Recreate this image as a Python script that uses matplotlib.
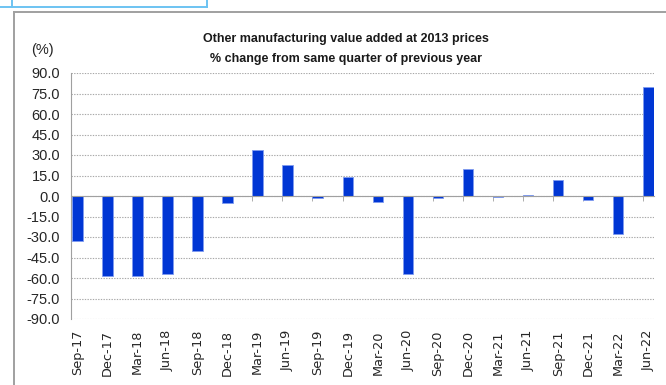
import matplotlib
matplotlib.use("Agg")
import matplotlib.pyplot as plt
from matplotlib.lines import Line2D
from matplotlib.ticker import FixedLocator
from matplotlib import font_manager

quarters = ["Sep-17", "Dec-17", "Mar-18", "Jun-18", "Sep-18", "Dec-18", "Mar-19",
            "Jun-19", "Sep-19", "Dec-19", "Mar-20", "Jun-20", "Sep-20", "Dec-20",
            "Mar-21", "Jun-21", "Sep-21", "Dec-21", "Mar-22", "Jun-22"]
pct_change = [-33.0, -58.5, -58.5, -57.0, -40.0, -5.0, 34.0,
              23.0, -1.5, 14.0, -4.5, -57.0, -1.5, 19.8,
              -1.0, 1.0, 11.7, -3.2, -28.0, 79.5]
yticks = [90, 75, 60, 45, 30, 15, 0, -15, -30, -45, -60, -75, -90]

names = {f.name for f in font_manager.fontManager.ttflist}
narrow = "Liberation Sans Narrow" if "Liberation Sans Narrow" in names else "Liberation Sans"
title_size = 10.5 if narrow == "Liberation Sans Narrow" else 9.0

fig = plt.figure(figsize=(6.66, 3.85), dpi=100)
W, H = 666, 385
ax = fig.add_axes([71 / W, 1 - 319 / H, 583 / W, 246 / H])

x = list(range(len(quarters)))
ax.bar(x, pct_change, width=0.35, color="#0036D4", edgecolor="#7F9BF0",
       linewidth=0.6, zorder=3)

ax.set_xlim(-0.21, 19.19)
ax.set_ylim(-90, 90)
ax.set_yticks(yticks)
ax.set_yticklabels([f"{v:.1f}" for v in yticks], fontfamily=narrow, fontsize=10.5,
                   color="#262626")
ax.tick_params(axis="y", length=0, pad=8)
ax.yaxis.grid(True, color="#a8a8a8", linestyle=(0, (1.2, 1.2)), linewidth=0.8, zorder=0)

# category axis sits on zero, tick marks between categories
for s in ["top", "right"]:
    ax.spines[s].set_visible(False)
ax.spines["bottom"].set_position(("data", 0))
ax.spines["bottom"].set_color("#a0a0a0")
ax.spines["bottom"].set_zorder(4)
ax.spines["left"].set_color("#a0a0a0")
ax.set_xticks([])
ax.xaxis.set_minor_locator(FixedLocator([i - 0.175 for i in x]))
ax.tick_params(axis="x", which="minor", length=3.6, color="#a0a0a0", direction="out")

lab = ax.secondary_xaxis(0.0)
lab.set_xticks(x)
lab.set_xticklabels(quarters, rotation=90, fontfamily="DejaVu Sans", fontsize=9.3,
                    color="#262626")
lab.tick_params(length=0, pad=8)
lab.spines["bottom"].set_visible(False)

fig.text(346 / W, 1 - 39 / H, "Other manufacturing value added at 2013 prices",
         ha="center", va="center", fontfamily=narrow, fontweight="bold",
         fontsize=title_size, color="#1a1a1a")
fig.text(346 / W, 1 - 59 / H, "% change from same quarter of previous year",
         ha="center", va="center", fontfamily=narrow, fontweight="bold",
         fontsize=title_size, color="#1a1a1a")
fig.text(42 / W, 1 - 50 / H, "(%)", ha="center", va="center", fontfamily=narrow,
         fontsize=10.5, color="#262626")

# chart frame and the box edge above it
gray = "#a0a0a0"
fig.add_artist(Line2D([14 / W, 1], [1 - 12 / H, 1 - 12 / H], color=gray, linewidth=1.4))
fig.add_artist(Line2D([14 / W, 14 / W], [0, 1 - 12 / H], color=gray, linewidth=1.4))
blue = "#6cc3f2"
fig.add_artist(Line2D([0, 207 / W], [1 - 7 / H, 1 - 7 / H], color=blue, linewidth=1.4))
fig.add_artist(Line2D([12 / W, 12 / W], [1 - 7 / H, 1], color=blue, linewidth=1.4))
fig.add_artist(Line2D([207 / W, 207 / W], [1 - 7 / H, 1], color=blue, linewidth=1.4))

fig.savefig("out.png", dpi=100)
